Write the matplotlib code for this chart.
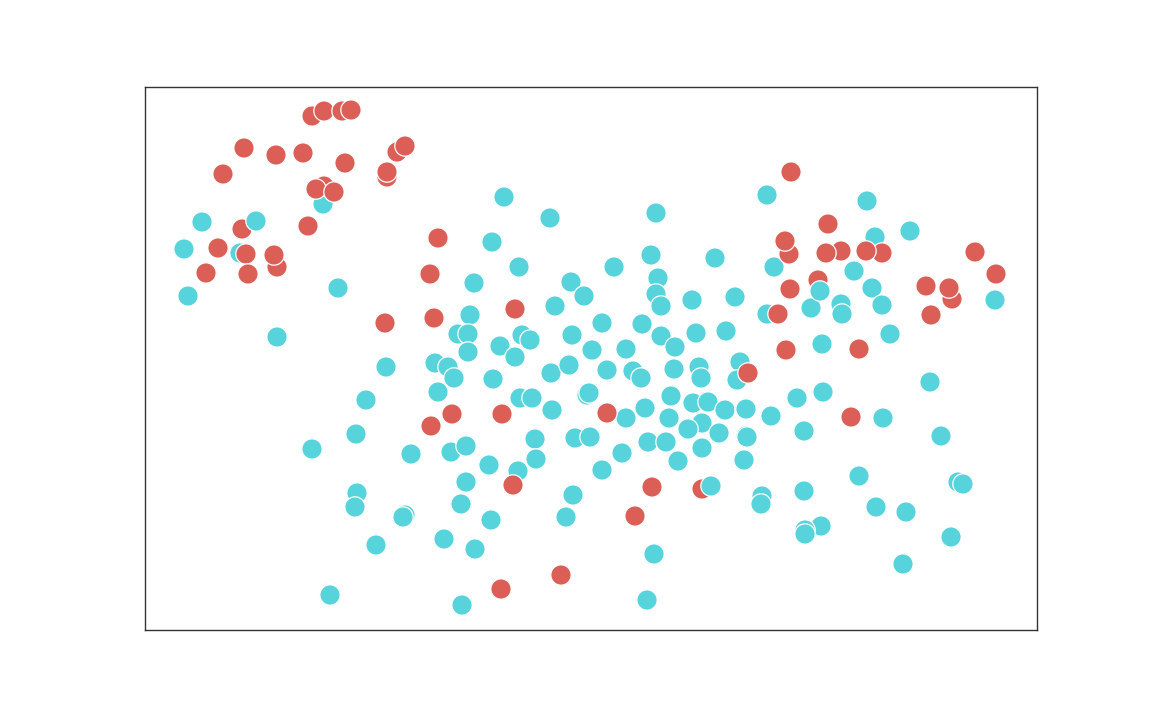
import matplotlib
matplotlib.use("Agg")
import matplotlib.pyplot as plt

# Point positions (units: pixels from the lower-left axes corner)
cyan_px = [
    (323,204),(202,222),(184,249),(240,253),(188,296),(338,288),(277,337),
    (504,197),(550,218),(656,213),(492,242),(519,267),(651,255),(715,258),(614,267),
    (474,283),(571,282),(584,296),(658,278),(656,294),(661,306),(692,300),(734,297),
    (555,306),(470,315),(602,323),(642,324),(661,336),(696,333),(726,331),
    (458,334),(468,334),(522,335),(530,340),(572,335),(500,346),(592,350),(626,349),
    (675,347),(468,352),(515,357),(740,362),(737,380),
    (435,363),(448,367),(454,378),(386,367),(438,392),(366,400),(493,379),
    (551,373),(569,365),(607,370),(633,371),(641,378),(674,369),(699,367),(701,378),
    (520,398),(532,398),(587,395),(589,393),(552,410),(626,418),(645,408),(671,396),
    (669,418),(693,403),(708,402),(702,423),(725,410),(745,409),(688,429),(719,433),
    (702,448),(746,436),(743,460),(678,461),(648,442),(666,442),(622,453),(602,470),
    (575,438),(590,437),(535,439),(536,459),(518,471),(356,434),(312,449),(411,454),
    (451,452),(466,446),(489,465),(466,482),(461,504),(491,520),(444,539),(475,549),
    (462,605),(357,493),(355,507),(405,515),(403,517),(376,545),(330,595),
    (573,495),(566,517),(654,554),(647,600),
    (767,195),(867,201),(875,237),(910,231),(774,267),(854,271),(872,288),
    (995,300),(735,297),(811,308),(841,304),(842,314),(882,305),(767,314),
    (822,344),(890,334),(930,382),(797,398),(823,392),(746,409),(771,416),
    (883,418),(804,431),(747,437),(941,436),(744,460),(859,476),(958,482),(963,484),
    (762,496),(761,504),(804,491),(876,507),(906,512),(821,526),(805,530),(805,534),
    (951,537),(903,564),
]
red_px = [
    (312,116),(324,111),(342,111),(351,110),(244,148),(276,155),(303,153),(345,163),
    (223,174),(397,152),(405,146),(387,177),(387,172),(324,186),(316,189),(334,192),
    (308,226),(242,229),(218,248),(246,254),(277,267),(274,255),(206,273),(248,274),
    (438,238),(430,274),(434,318),(385,323),(515,309),(452,414),(431,426),(502,414),
    (513,485),(501,589),(561,575),(607,413),(652,487),(635,516),(702,489),(748,373),
    (791,172),(828,224),(789,254),(785,241),(841,251),(826,253),(882,253),(866,251),
    (975,252),(996,274),(818,280),(790,289),(926,286),(952,299),(949,288),(931,315),
    (778,314),(786,350),(859,349),(851,417),
]
cyan_top_px = [(256,221),(820,291),(711,486)]

X0, Y0 = 145, 630
groups = ["A"] * len(cyan_px) + ["B"] * len(red_px) + ["A"] * len(cyan_top_px)
pts = cyan_px + red_px + cyan_top_px
xs = [p[0] - X0 for p in pts]
ys = [Y0 - p[1] for p in pts]
palette = {"A": "#57d3db", "B": "#db5f57"}
colors = [palette[g] for g in groups]

fig = plt.figure(figsize=(11.52, 7.2), dpi=100)
ax = fig.add_axes([145/1152, 90/720, 892/1152, 543/720])
ax.scatter(xs, ys, c=colors, s=215, edgecolors="white", linewidths=0.9, zorder=2)
ax.set_xlim(0, 892)
ax.set_ylim(0, 543)
ax.set_xticks([])
ax.set_yticks([])
for sp in ax.spines.values():
    sp.set_color("#333333")
    sp.set_linewidth(1.0)
fig.savefig("out.png", dpi=100, facecolor="white")
